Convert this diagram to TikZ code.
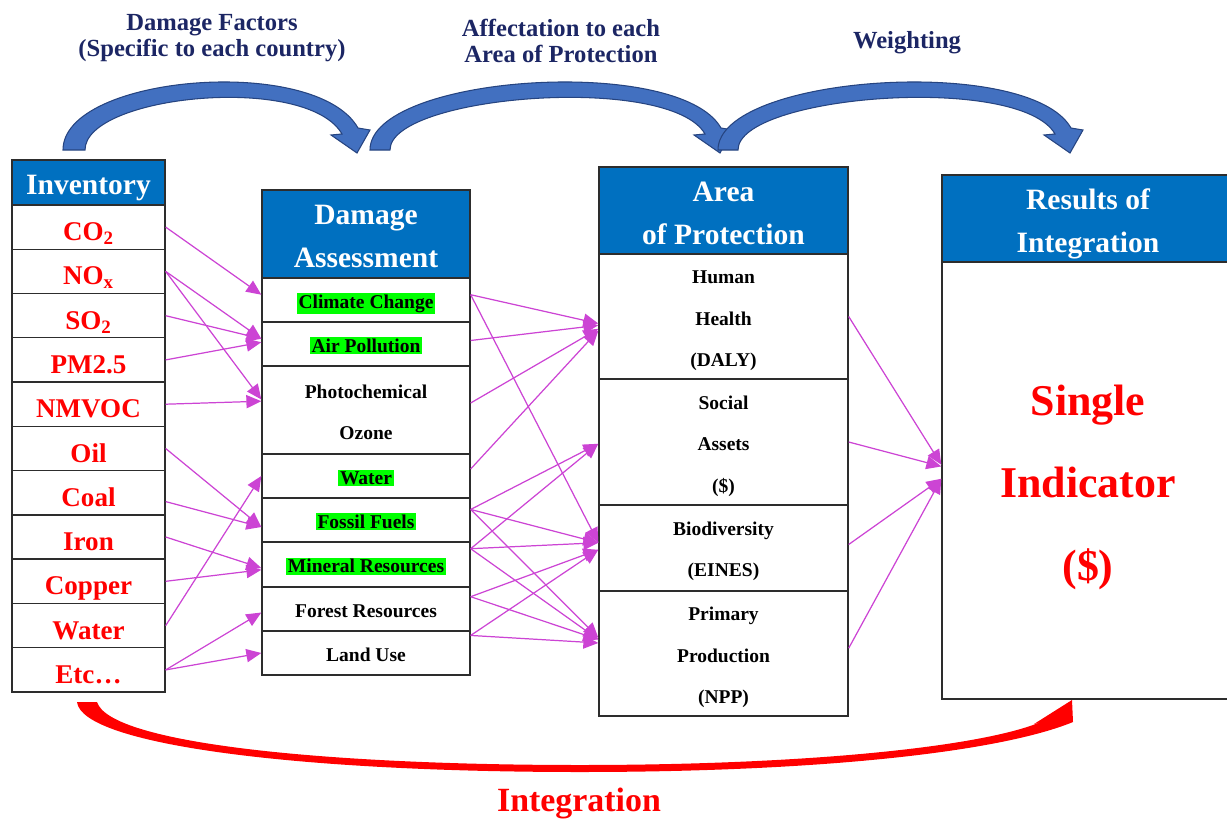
\documentclass[tikz,border=0pt]{standalone}
\usepackage{fontspec}
\setmainfont{Liberation Serif}
\usetikzlibrary{arrows.meta}

\definecolor{hdrblue}{RGB}{0,112,192}
\definecolor{boxline}{RGB}{45,45,45}
\definecolor{flowpink}{RGB}{204,68,212}
\definecolor{arcblue}{RGB}{66,112,192}
\definecolor{arcedge}{RGB}{38,68,128}
\definecolor{labelnavy}{RGB}{28,38,100}
\definecolor{hlgreen}{RGB}{0,255,0}

% green marker behind a category name
\newcommand{\greenmark}[1]{{\setlength{\fboxsep}{1pt}\colorbox{hlgreen}{#1}}}

\tikzset{
  hdr/.style={draw=boxline, line width=0.8pt, fill=hdrblue, text=white, align=center, inner sep=0pt,
    text depth=0pt, font=\fontsize{16.8}{24.5}\selectfont\bfseries},
  cell/.style={draw=boxline, line width=0.8pt, fill=white, align=center, inner sep=0pt,
    text depth=0pt, font=\fontsize{11.1}{23.6}\selectfont\bfseries},
  inv/.style={cell, text=red, minimum width=3.06cm, minimum height=0.885cm, text height=15.4pt,
    font=\fontsize{15.4}{18}\selectfont\bfseries},
  dmg/.style={cell, minimum width=4.16cm, minimum height=0.88cm, text height=9.6pt},
  aop/.style={cell, minimum width=4.98cm},
  flow/.style={draw=flowpink, line width=0.7pt, -{Triangle[length=8.5pt,width=7.5pt]}},
  bluearc/.style={fill=arcblue, draw=arcedge, line width=0.6pt},
  toplabel/.style={text=labelnavy, align=center, font=\fontsize{14}{14.8}\selectfont\bfseries},
}

\begin{document}
\begin{tikzpicture}[x=0.02cm, y=0.02cm]
    \useasboundingbox (0,0) rectangle (1227,-818);

    % Step labels
    \node[toplabel] (dflabel) at (212,-38) {Damage Factors\\(Specific to each country)};
    \node[toplabel] (aplabel) at (561,-41) {Affectation to each\\Area of Protection};
    \node[toplabel] (wlabel) at (907,-43) {Weighting};

    % Curved step arrows
    \draw[bluearc] (63,-150) .. controls (63,-75) and (316,-54) .. (358,-128) -- (370,-130) -- (357,-153) -- (331,-135) -- (342,-134) .. controls (307,-73) and (85,-95) .. (85,-150) -- cycle;
    \draw[bluearc] (370,-150) .. controls (370,-75) and (679,-54) .. (721,-128) -- (733,-130) -- (720,-153) -- (694,-135) -- (705,-134) .. controls (670,-73) and (390,-95) .. (390,-150) -- cycle;
    \draw[bluearc] (718,-150) .. controls (718,-75) and (1029,-54) .. (1071,-128) -- (1083,-130) -- (1070,-153) -- (1044,-135) -- (1055,-134) .. controls (1020,-73) and (738,-95) .. (738,-150) -- cycle;

    % Inventory column
    \node[hdr, minimum width=3.06cm, minimum height=0.9cm, text height=14pt] (invhead) at (88.5,-182.5) {Inventory};
    \node[inv] (co2) at (88.5,-227.1) {CO\textsubscript{2}};
    \node[inv] (nox) at (88.5,-271.4) {NO\textsubscript{x}};
    \node[inv] (so2) at (88.5,-315.7) {SO\textsubscript{2}};
    \node[inv] (pm) at (88.5,-359.9) {PM2.5};
    \node[inv] (nmvoc) at (88.5,-404.2) {NMVOC};
    \node[inv] (oil) at (88.5,-448.5) {Oil};
    \node[inv] (coal) at (88.5,-492.8) {Coal};
    \node[inv] (iron) at (88.5,-537.0) {Iron};
    \node[inv] (copper) at (88.5,-581.3) {Copper};
    \node[inv] (h2o) at (88.5,-625.6) {Water};
    \node[inv] (etc) at (88.5,-669.9) {Etc\ldots};

    % Damage assessment column
    \node[hdr, minimum width=4.16cm, minimum height=1.76cm, text height=38.3pt] (dmghead) at (366,-234) {Damage\\Assessment};
    \node[dmg] (cc) at (366,-300) {\greenmark{Climate Change}};
    \node[dmg] (air) at (366,-344) {\greenmark{Air Pollution}};
    \node[dmg, minimum height=1.76cm, text height=33.6pt] (photo) at (366,-410) {Photochemical\\Ozone};
    \node[dmg] (water) at (366,-476) {\greenmark{Water}};
    \node[dmg] (fossil) at (366,-520) {\greenmark{Fossil Fuels}};
    \node[dmg, minimum height=0.9cm] (mineral) at (366,-564.5) {\greenmark{Mineral Resources}};
    \node[dmg] (forest) at (366,-609) {Forest Resources};
    \node[dmg] (land) at (366,-653) {Land Use};

    % Area of protection column
    \node[hdr, minimum width=4.98cm, minimum height=1.74cm, text height=38.9pt] (aophead) at (723.5,-210.5) {Area\\of Protection};
    \node[aop, minimum height=2.5cm, text height=56.9pt] (hh) at (723.5,-316.5) {Human\\Health\\(DALY)};
    \node[aop, minimum height=2.52cm, text height=57.4pt] (sa) at (723.5,-442) {Social\\Assets\\(\$)};
    \node[aop, minimum height=1.72cm, text height=32.4pt] (bio) at (723.5,-548) {Biodiversity\\(EINES)};
    \node[aop, minimum height=2.5cm, text height=56.9pt] (pp) at (723.5,-653.5) {Primary\\Production\\(NPP)};

    % Results column
    \node[hdr, minimum width=5.84cm, minimum height=1.74cm, text height=38.9pt] (reshead) at (1088,-218.5) {Results of\\Integration};
    \node[cell, minimum width=5.84cm, minimum height=8.74cm, text=red, text height=113.8pt, font=\fontsize{25}{47}\selectfont\bfseries] (single) at (1088,-480.5) {Single\\Indicator\\(\$)};

    % Inventory to damage categories
    \draw[flow] (co2.east) -- ([yshift=3pt]cc.west);
    \draw[flow] (nox.east) -- ([yshift=3pt]air.west);
    \draw[flow] (nox.east) -- ([yshift=6pt]photo.west);
    \draw[flow] (so2.east) -- ([yshift=3pt]air.west);
    \draw[flow] (pm.east) -- ([yshift=1pt]air.west);
    \draw[flow] (nmvoc.east) -- ([yshift=5pt]photo.west);
    \draw[flow] (oil.east) -- ([yshift=-4pt]fossil.west);
    \draw[flow] ([yshift=-5pt]coal.east) -- ([yshift=-4pt]fossil.west);
    \draw[flow] (iron.east) -- ([yshift=-2pt]mineral.west);
    \draw[flow] (copper.east) -- ([yshift=-3pt]mineral.west);
    \draw[flow] (h2o.east) -- (water.west);
    \draw[flow] (etc.east) -- ([yshift=-2pt]forest.west);
    \draw[flow] (etc.east) -- (land.west);

    % Damage categories to areas of protection
    \draw[flow] ([yshift=3pt]cc.east) -- ([yshift=-4pt]hh.west);
    \draw[flow] ([yshift=3pt]cc.east) -- ([yshift=3pt]bio.west);
    \draw[flow] ([yshift=2pt]air.east) -- ([yshift=-5pt]hh.west);
    \draw[flow] ([yshift=4pt]photo.east) -- ([yshift=-7pt]hh.west);
    \draw[flow] ([yshift=4pt]water.east) -- ([yshift=-8pt]hh.west);
    \draw[flow] ([yshift=6pt]fossil.east) -- ([yshift=-1pt]sa.west);
    \draw[flow] ([yshift=6pt]fossil.east) -- ([yshift=3pt]bio.west);
    \draw[flow] ([yshift=6pt]fossil.east) -- ([yshift=9pt]pp.west);
    \draw[flow] ([yshift=9pt]mineral.east) -- ([yshift=-1pt]sa.west);
    \draw[flow] ([yshift=9pt]mineral.east) -- ([yshift=3pt]bio.west);
    \draw[flow] ([yshift=9pt]mineral.east) -- ([yshift=8pt]pp.west);
    \draw[flow] ([yshift=7pt]forest.east) -- ([yshift=-1pt]bio.west);
    \draw[flow] ([yshift=7pt]forest.east) -- ([yshift=8pt]pp.west);
    \draw[flow] ([yshift=10pt]land.east) -- ([yshift=-1pt]bio.west);
    \draw[flow] ([yshift=10pt]land.east) -- ([yshift=6pt]pp.west);

    % Areas of protection to single indicator
    \draw[flow] (hh.east) -- ([yshift=9pt]single.west);
    \draw[flow] (sa.east) -- ([yshift=8pt]single.west);
    \draw[flow] ([yshift=2pt]bio.east) -- ([yshift=1pt]single.west);
    \draw[flow] ([yshift=3pt]pp.east) -- ([yshift=1pt]single.west);

    % Integration arrow underneath
    \fill[red] (77,-702) .. controls (82,-745) and (300,-772) .. (580,-772) .. controls (820,-772) and (1000,-752) .. (1073,-722) -- (1072,-700) -- (1034,-724) -- (1043,-721) .. controls (990,-745) and (820,-765) .. (580,-765) .. controls (330,-765) and (110,-744) .. (97,-702) -- cycle;
    \node[text=red, font=\fontsize{19.3}{22}\selectfont\bfseries] (intlabel) at (579,-803) {Integration};
\end{tikzpicture}
\end{document}
